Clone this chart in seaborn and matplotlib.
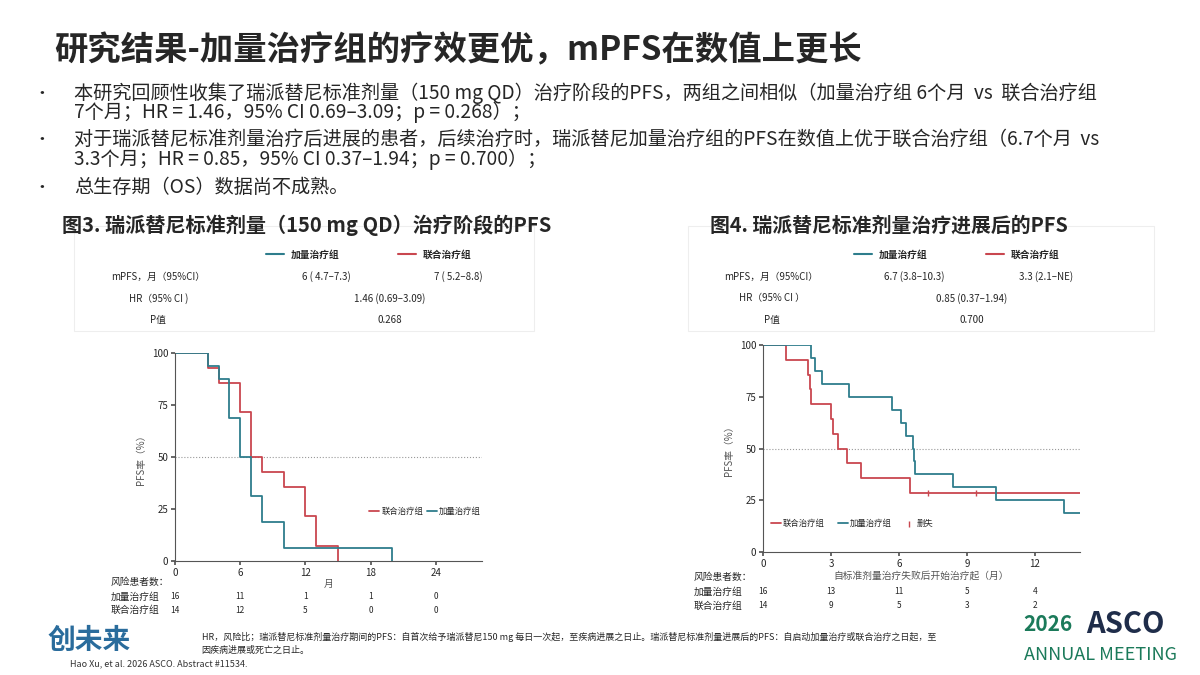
import numpy as np
import pandas as pd
import seaborn as sns
import matplotlib.pyplot as plt

sns.set_theme(style="white")
plt.rcParams['font.family'] = ['Noto Sans CJK SC', 'DejaVu Sans']

TEAL = "#2e7d8c"
RED = "#c9474f"

# Fig 3: standard dose phase PFS
f3_dose_t = [0, 3, 4, 5, 6, 7, 8, 10, 20]
f3_dose_s = [100, 93.75, 87.5, 68.75, 50, 31.25, 18.75, 6.25, 0]
f3_combo_t = [0, 3, 4, 6, 7, 8, 10, 12, 13, 15]
f3_combo_s = [100, 92.9, 85.7, 71.4, 50, 42.9, 35.7, 21.4, 7.1, 0]
f3_ticks = [0, 6, 12, 18, 24]
f3_risk_dose = [16, 11, 1, 1, 0]
f3_risk_combo = [14, 12, 5, 0, 0]

# Fig 4: PFS after progression
f4_dose_t = [0, 2.1, 2.3, 2.6, 3.8, 5.7, 6.1, 6.3, 6.6, 6.65, 6.7, 8.4, 10.3, 13.3, 14]
f4_dose_s = [100, 93.75, 87.5, 81.25, 75, 68.75, 62.5, 56.25, 50, 43.75, 37.5, 31.25, 25, 18.75, 18.75]
f4_combo_t = [0, 1.0, 2.0, 2.05, 2.1, 3.0, 3.1, 3.3, 3.7, 4.3, 6.5, 14]
f4_combo_s = [100, 92.9, 85.7, 78.6, 71.4, 64.3, 57.1, 50, 42.9, 35.7, 28.6, 28.6]
f4_censor_t = [7.3, 9.4]
f4_censor_s = [28.6, 28.6]
f4_ticks = [0, 3, 6, 9, 12]
f4_risk_dose = [16, 13, 11, 5, 4]
f4_risk_combo = [14, 9, 5, 3, 2]

fig = plt.figure(figsize=(12, 6.75), dpi=100)
fig.patch.set_facecolor("white")

fig.text(0.045, 0.925, "研究结果-加量治疗组的疗效更优，mPFS在数值上更长",
         fontsize=24, fontweight="bold", va="center")
bullets = [
    (0.862, "本研究回顾性收集了瑞派替尼标准剂量（150 mg QD）治疗阶段的PFS，两组之间相似（加量治疗组 6个月  vs  联合治疗组"),
    (0.833, "7个月；HR = 1.46，95% CI 0.69–3.09；p = 0.268）；"),
    (0.793, "对于瑞派替尼标准剂量治疗后进展的患者，后续治疗时，瑞派替尼加量治疗组的PFS在数值上优于联合治疗组（6.7个月  vs"),
    (0.764, "3.3个月；HR = 0.85，95% CI 0.37–1.94；p = 0.700）；"),
    (0.722, "总生存期（OS）数据尚不成熟。"),
]
for y, txt in bullets:
    fig.text(0.062, y, txt, fontsize=13.8, va="center")
for y in (0.862, 0.793, 0.722):
    fig.text(0.028, y, "•", fontsize=12, va="center")

fig.text(0.052, 0.667, "图3. 瑞派替尼标准剂量（150 mg QD）治疗阶段的PFS", fontsize=14.5,
         fontweight="bold", va="center")
fig.text(0.592, 0.667, "图4. 瑞派替尼标准剂量治疗进展后的PFS", fontsize=14.3,
         fontweight="bold", va="center")


def draw_table(x0, x1, y0, ycols, rows, mid):
    fig.add_artist(plt.Rectangle((x0, y0), x1 - x0, 0.155, transform=fig.transFigure,
                                 fill=False, ec="#eeeeee", lw=0.8))
    for c, (lab, col) in zip(ycols[0], ycols[1]):
        fig.add_artist(plt.Line2D([c - 0.06, c - 0.045], [0.623, 0.623], color=col, lw=1.5))
        fig.text(c - 0.04, 0.623, lab, fontsize=7, fontweight="bold", va="center")
    for i, (lab, vals) in enumerate(rows):
        y = 0.59 - i * 0.032
        fig.text(x0 + 0.07, y, lab, fontsize=7, ha="center", va="center")
        if len(vals) == 2:
            for c, v in zip(ycols[0], vals):
                fig.text(c - 0.01, y, v, fontsize=7, ha="center", va="center")
        else:
            fig.text(mid, y, vals[0], fontsize=7, ha="center", va="center")


draw_table(0.062, 0.445, 0.51, ([0.282, 0.392], [("加量治疗组", TEAL), ("联合治疗组", RED)]),
           [("mPFS，月（95%CI）", ["6 ( 4.7–7.3)", "7 ( 5.2–8.8)"]),
            ("HR（95% CI )", ["1.46 (0.69–3.09)"]),
            ("P值", ["0.268"])], 0.325)
draw_table(0.573, 0.962, 0.51, ([0.772, 0.882], [("加量治疗组", TEAL), ("联合治疗组", RED)]),
           [("mPFS，月（95%CI）", ["6.7 (3.8–10.3)", "3.3 (2.1–NE)"]),
            ("HR（95% CI ）", ["0.85 (0.37–1.94)"]),
            ("P值", ["0.700"])], 0.81)


def km_axes(rect, xlim, ticks):
    ax = fig.add_axes(rect)
    ax.set_xlim(xlim)
    ax.set_ylim(0, 100)
    ax.set_xticks(ticks)
    ax.set_yticks([0, 25, 50, 75, 100])
    ax.tick_params(labelsize=7, length=3, color="#555555", left=True, bottom=True, pad=2)
    for s in ("top", "right"):
        ax.spines[s].set_visible(False)
    for s in ("left", "bottom"):
        ax.spines[s].set_color("#555555")
        ax.spines[s].set_linewidth(0.8)
    ax.axhline(50, color="#999999", ls=":", lw=0.8)
    return ax


def risk_table(ax, ticks, dose, combo, x_lab, y0):
    fig.text(x_lab, y0, "风险患者数：", fontsize=7, va="center")
    fig.text(x_lab, y0 - 0.022, "加量治疗组", fontsize=7, va="center")
    fig.text(x_lab, y0 - 0.042, "联合治疗组", fontsize=7, va="center")
    for t, d, c in zip(ticks, dose, combo):
        xf = fig.transFigure.inverted().transform(ax.transData.transform((t, 0)))[0]
        fig.text(xf, y0 - 0.022, str(d), fontsize=6, ha="center", va="center")
        fig.text(xf, y0 - 0.042, str(c), fontsize=6, ha="center", va="center")


ax3 = km_axes([0.146, 0.169, 0.256, 0.308], (0, 28.3), f3_ticks)
d3 = pd.concat([pd.DataFrame({"t": f3_combo_t, "s": f3_combo_s, "组": "联合治疗组"}),
                pd.DataFrame({"t": f3_dose_t, "s": f3_dose_s, "组": "加量治疗组"})])
sns.lineplot(data=d3, x="t", y="s", hue="组", palette={"联合治疗组": RED, "加量治疗组": TEAL},
             drawstyle="steps-post", lw=1.3, ax=ax3, legend=True)
ax3.set_xlabel("月", fontsize=7, color="#555555", labelpad=1)
ax3.set_ylabel("PFS率（%）", fontsize=7, color="#555555")
ax3.legend(loc="lower right", bbox_to_anchor=(1.02, 0.18), ncol=2, frameon=False, fontsize=6,
           handlelength=1.2, columnspacing=0.4, handletextpad=0.3)
risk_table(ax3, f3_ticks, f3_risk_dose, f3_risk_combo, 0.092, 0.138)

ax4 = km_axes([0.636, 0.182, 0.264, 0.307], (0, 14), f4_ticks)
d4 = pd.concat([pd.DataFrame({"t": f4_combo_t, "s": f4_combo_s, "组": "联合治疗组"}),
                pd.DataFrame({"t": f4_dose_t, "s": f4_dose_s, "组": "加量治疗组"})])
sns.lineplot(data=d4, x="t", y="s", hue="组", palette={"联合治疗组": RED, "加量治疗组": TEAL},
             drawstyle="steps-post", lw=1.3, ax=ax4, legend=True)
sns.scatterplot(x=f4_censor_t, y=f4_censor_s, marker="|", color=RED, s=25, ax=ax4,
                label="删失", linewidth=1)
ax4.set_xlabel("自标准剂量治疗失败后开始治疗起（月）", fontsize=7, color="#555555", labelpad=1)
ax4.set_ylabel("PFS率（%）", fontsize=7, color="#555555")
ax4.legend(loc="lower left", bbox_to_anchor=(0.0, 0.08), ncol=3, frameon=False, fontsize=6,
           handlelength=1.2, columnspacing=1.5, handletextpad=0.3)
risk_table(ax4, f4_ticks, f4_risk_dose, f4_risk_combo, 0.578, 0.145)

fig.text(0.168, 0.056, "HR，风险比；瑞派替尼标准剂量治疗期间的PFS：自首次给予瑞派替尼150 mg 每日一次起，至疾病进展之日止。"
         "瑞派替尼标准剂量进展后的PFS：自启动加量治疗或联合治疗之日起，至",
         fontsize=6.5, va="center")
fig.text(0.168, 0.037, "因疾病进展或死亡之日止。", fontsize=6.5, va="center")
fig.text(0.058, 0.016, "Hao Xu, et al. 2026 ASCO. Abstract #11534.", fontsize=6.5, va="center",
         color="#333333")
fig.text(0.04, 0.05, "创未来", fontsize=20, fontstyle="italic", fontweight="bold",
         color="#2a6c9c", va="center")
fig.text(0.853, 0.075, "2026", fontsize=15, color="#1b7a5a", fontweight="bold", va="center")
fig.text(0.905, 0.075, "ASCO", fontsize=21, color="#1f2d4a", fontweight="bold", va="center")
fig.text(0.853, 0.03, "ANNUAL MEETING", fontsize=13, color="#1b7a5a", va="center")

fig.savefig("out.png", dpi=100)
